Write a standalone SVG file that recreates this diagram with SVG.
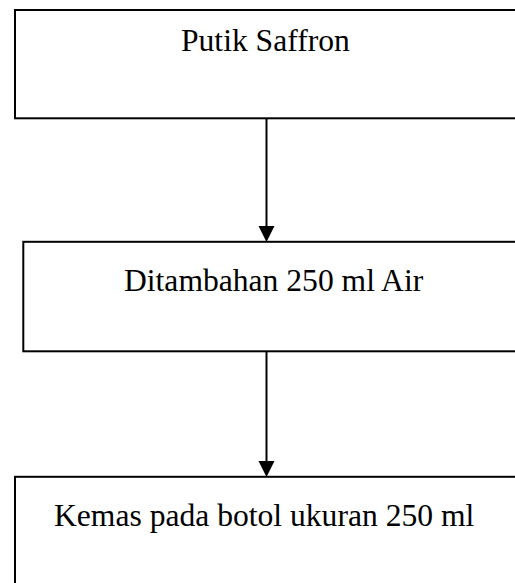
<svg xmlns="http://www.w3.org/2000/svg" width="515" height="583" viewBox="0 0 515 583">
  <style>
    .box { fill: #ffffff; stroke: #000000; stroke-width: 2; }
    .lbl { font-family: "Liberation Serif", "Times New Roman", serif; font-size: 31.6px; fill: #000000; }
    .conn { stroke: #000000; stroke-width: 2; fill: none; }
    .head { fill: #000000; stroke: none; }
  </style>
  <rect width="515" height="583" fill="#ffffff"/>
  <g id="node-putik">
    <rect class="box" x="15" y="10" width="520" height="108.3"/>
    <text class="lbl" x="181" y="51">Putik Saffron</text>
  </g>
  <g id="node-ditambahan">
    <rect class="box" x="23.3" y="241.8" width="520" height="109.5"/>
    <text class="lbl" x="124" y="290.7">Ditambahan 250 ml Air</text>
  </g>
  <g id="node-kemas">
    <rect class="box" x="15" y="476.8" width="520" height="130"/>
    <text class="lbl" x="54" y="526">Kemas pada botol ukuran 250 ml</text>
  </g>
  <g id="connectors">
    <line class="conn" x1="266.5" y1="119" x2="266.5" y2="227"/>
    <polygon class="head" points="258.5,226 274.5,226 266.5,242"/>
    <line class="conn" x1="266.5" y1="352" x2="266.5" y2="462"/>
    <polygon class="head" points="258.5,461 274.5,461 266.5,477"/>
  </g>
</svg>
